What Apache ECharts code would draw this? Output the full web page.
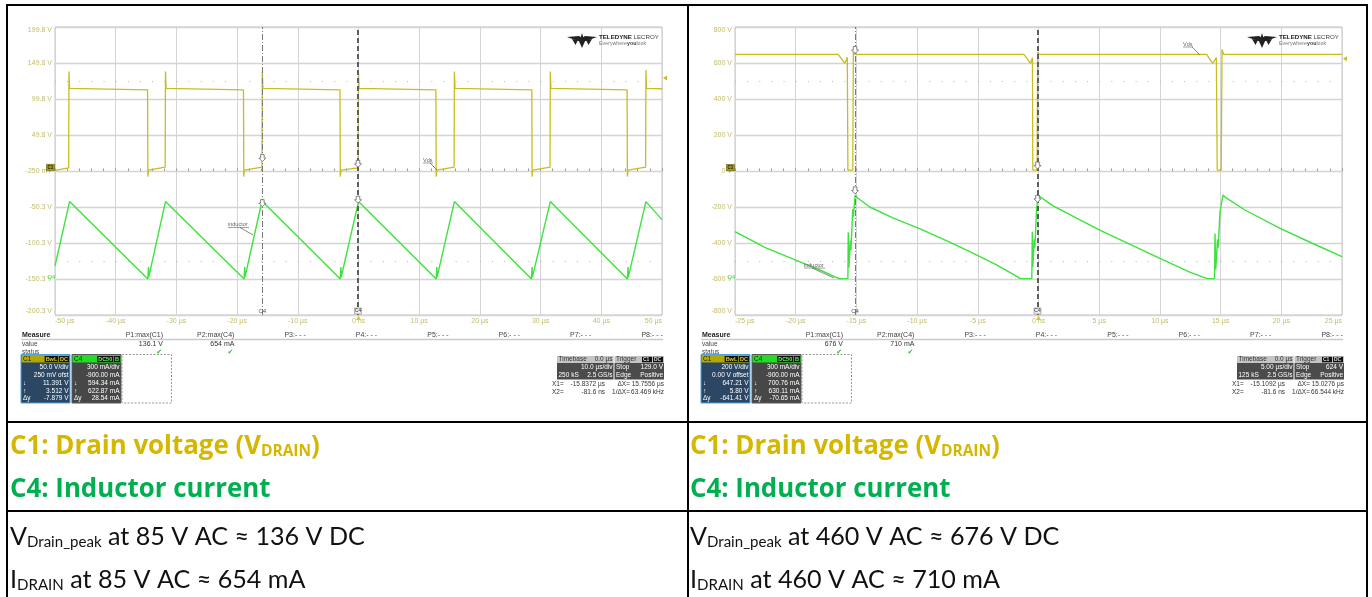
<!DOCTYPE html>
<html>
<head>
<meta charset="utf-8">
<script src="https://cdn.jsdelivr.net/npm/echarts@6/dist/echarts.min.js"></script>
<style>
html, body { margin: 0; padding: 0; background: #fff; }
#chart { width: 1372px; height: 597px; }
</style>
</head>
<body>
<div id="chart"></div>
<script>
// ---- left scope: 85 V AC, 10 us/div ----
const leftTimeLabels = ['-50 µs', '-40 µs', '-30 µs', '-20 µs', '-10 µs', '0 ns', '10 µs', '20 µs', '30 µs', '40 µs', '50 µs'];
const leftVoltLabels = ['-200.3 V', '-150.3 V', '-100.3 V', '-50.3 V', '-250 mV', '49.8 V', '99.8 V', '149.8 V', '199.8 V'];
// C1 drain voltage [us, V]
const leftDrain = [
	[-50, 0.5], [-47.75, 4], [-47.7, 138], [-47.6, 114.5],
	[-34.75, 112.5], [-34.7, -8], [-34.6, 1], [-31.85, 5], [-31.8, 138], [-31.7, 114.5],
	[-18.95, 112.5], [-18.9, -8], [-18.8, 1], [-15.9, 5], [-15.85, 138], [-15.75, 114.5],
	[-3.05, 112.5], [-3.0, -8], [-2.9, 1], [-0.05, 4], [0, 136], [0.1, 114.5],
	[12.75, 112.5], [12.8, -8], [12.9, 1], [15.75, 5], [15.8, 138], [15.9, 114.5],
	[28.55, 112.5], [28.6, -8], [28.7, 1], [31.55, 5], [31.6, 138], [31.7, 114.5],
	[44.25, 112.5], [44.3, -8], [44.4, 1], [47.3, 5], [47.35, 140], [47.45, 114.5],
	[50, 114]
];
// C4 inductor current [us, mA]
const leftInductor = [
	[-50, 110], [-47.6, 645],
	[-34.7, 0], [-34.6, 100], [-34.55, 15], [-31.8, 645],
	[-18.85, 0], [-18.75, 100], [-18.7, 15], [-15.9, 650],
	[-3.0, 0], [-2.9, 100], [-2.85, 15], [0, 645],
	[12.8, 0], [12.9, 100], [12.95, 15], [15.8, 645],
	[28.5, 0], [28.6, 100], [28.65, 15], [31.6, 645],
	[44.3, 0], [44.4, 100], [44.45, 15], [47.35, 645],
	[50, 495]
];
const leftCursors = [-15.8372, -0.0816];
const leftTrigger = 129.0;
const leftMeasure = ['136.1 V', '654 mA'];
const leftC1Box = ['50.0 V/div', '250 mV ofst', '11.391 V', '3.512 V', '-7.879 V'];
const leftC4Box = ['300 mA/div', '-900.00 mA', '594.34 mA', '622.87 mA', '28.54 mA'];
const leftTimebase = ['0.0 µs', '10.0 µs/div', '250 kS', '2.5 GS/s', '129.0 V'];
const leftCursorText = ['-15.8372 µs', '-81.6 ns', '15.7556 µs', '63.469 kHz'];
const leftNotes = [' at 85 V AC ≈ 136 V DC', ' at 85 V AC ≈ 654 mA'];

// ---- right scope: 460 V AC, 5 us/div ----
const rightTimeLabels = ['-25 µs', '-20 µs', '-15 µs', '-10 µs', '-5 µs', '0 ns', '5 µs', '10 µs', '15 µs', '20 µs', '25 µs'];
const rightVoltLabels = ['-800 V', '-600 V', '-400 V', '-200 V', '0 V', '200 V', '400 V', '600 V', '800 V'];
const rightDrain = [
	[-25, 648], [-16.5, 648], [-15.95, 598], [-15.75, 632], [-15.7, 5], [-15.3, 5], [-15.25, 664], [-15.1, 648],
	[-1.2, 648], [-0.65, 598], [-0.5, 630], [-0.47, 5], [-0.12, 5], [-0.07, 660], [0.05, 648],
	[13.85, 648], [14.35, 598], [14.65, 630], [14.72, 5], [15.05, 5], [15.12, 676], [15.25, 648],
	[25, 648]
];
const rightInductor = [
	[-25, 394], [-22.5, 262], [-20, 158], [-18, 75], [-16.8, 20], [-16.4, 2],
	[-15.7, 5], [-15.67, 390], [-15.62, 95], [-15.5, 320], [-15.45, 240], [-15.3, 580], [-15.25, 520], [-15.1, 700],
	[-14.9, 675], [-13.9, 600], [-12, 510], [-9.8, 420], [-7.5, 315], [-5.7, 230], [-3.5, 120], [-2.0, 35], [-1.5, 3],
	[-0.55, 3], [-0.51, 394], [-0.47, 100], [-0.35, 330], [-0.3, 260], [-0.15, 600], [0, 700],
	[0.2, 680], [1.2, 610], [5, 410], [10, 172], [12.5, 55], [13.9, 3],
	[14.5, 3], [14.54, 380], [14.6, 80], [14.75, 330], [14.8, 260], [14.95, 560], [15.2, 700],
	[15.4, 680], [17, 575], [19.9, 422], [22.5, 300], [25, 186]
];
const rightCursors = [-15.1092, -0.0816];
const rightTrigger = 624;
const rightMeasure = ['676 V', '710 mA'];
const rightC1Box = ['200 V/div', '0.00 V offset', '647.21 V', '5.80 V', '-641.41 V'];
const rightC4Box = ['300 mA/div', '-900.00 mA', '700.76 mA', '630.11 mA', '-70.65 mA'];
const rightTimebase = ['0.0 µs', '5.00 µs/div', '125 kS', '2.5 GS/s', '624 V'];
const rightCursorText = ['-15.1092 µs', '-81.6 ns', '15.0276 µs', '66.544 kHz'];
const rightNotes = [' at 460 V AC ≈ 676 V DC', ' at 460 V AC ≈ 710 mA'];

// C4 scale: 300 mA/div, 900 mA at centre
const c4Range = [-300, 2100];
const paramHeads = ['P1:max(C1)', 'P2:max(C4)', 'P3:- - -', 'P4:- - -', 'P5:- - -', 'P6:- - -', 'P7:- - -', 'P8:- - -'];

const F = '"Liberation Sans"';
const LBL = '#c2bb6a';
const YEL = '#c8bd20';
const GRN = '#3ee23e';
const HEAD_Y = '#d6b700';
const HEAD_G = '#00b050';

const chart = echarts.init(document.getElementById('chart'));

const mctx = document.createElement('canvas').getContext('2d');
function measure(s, font) {
	mctx.font = font;
	return mctx.measureText(s).width;
}
// font size that makes a run of [text, weight, relSize] pieces span the given width
function fitSize(parts, family, target) {
	let w = 0;
	parts.forEach((p) => { w += measure(p[0], p[1] + ' ' + (20 * p[2]) + 'px ' + family); });
	return 20 * target / w;
}

function timeAxis(gi, min, max, step, labels) {
	return {
		type: 'value', gridIndex: gi, min: min, max: max, interval: step,
		axisLine: { show: false }, axisTick: { show: false },
		splitLine: { show: true, lineStyle: { color: '#d4d4d4', width: 1 } },
		axisLabel: {
			fontSize: 7, fontFamily: 'Liberation Sans', color: LBL, margin: 3,
			alignMinLabel: 'left', alignMaxLabel: 'right',
			formatter: (v) => labels[Math.round((v - min) / step)]
		}
	};
}
function voltAxis(gi, min, max, step, labels) {
	return {
		type: 'value', gridIndex: gi, min: min, max: max, interval: step,
		axisLine: { show: false }, axisTick: { show: false },
		splitLine: { show: true, lineStyle: { color: '#d4d4d4', width: 1.3 } },
		axisLabel: {
			fontSize: 7, fontFamily: 'Liberation Sans', color: LBL, margin: 3,
			verticalAlignMinLabel: 'bottom', verticalAlignMaxLabel: 'top',
			formatter: (v) => labels[Math.round((v - min) / step)]
		}
	};
}
function currentAxis(gi) {
	return { type: 'value', gridIndex: gi, min: c4Range[0], max: c4Range[1], show: false };
}
// small ticks along the centre line of the graticule
function tickAxis(gi, min, max, step) {
	return {
		type: 'value', gridIndex: gi, min: min, max: max, interval: step,
		position: 'bottom', offset: -144,
		axisLine: { show: false }, axisLabel: { show: false }, splitLine: { show: false },
		axisTick: { show: true, inside: true, length: 2.5, lineStyle: { color: '#999' } },
		minorTick: { show: true, splitNumber: 5, length: 2.5, lineStyle: { color: '#999' } }
	};
}

function cursorMarks(cur, dots) {
	const dot = { color: '#b4b4b4', width: 1, type: [1, 11.14] };
	return {
		silent: true, symbol: ['none', 'none'], label: { show: false }, animation: false,
		emphasis: { disabled: true },
		data: [
			{ xAxis: cur[0], lineStyle: { color: '#7a7a7a', width: 1, type: [6, 2, 1, 2] } },
			{ xAxis: cur[1], lineStyle: { color: '#5e5e5e', width: 2, type: [5, 3] } },
			{ yAxis: dots[0], lineStyle: dot },
			{ yAxis: dots[1], lineStyle: dot }
		]
	};
}

function trace(xi, yi, data, color, width, extra) {
	return Object.assign({
		type: 'line', xAxisIndex: xi, yAxisIndex: yi, data: data,
		showSymbol: false, symbol: 'none', silent: true, animation: false,
		lineStyle: { color: color, width: width }, z: 3
	}, extra || {});
}

chart.setOption({
	animation: false,
	backgroundColor: '#fff',
	grid: [
		{ left: 55, top: 27, width: 607, height: 288, show: true, borderColor: '#c4c4c4', borderWidth: 1 },
		{ left: 735, top: 27, width: 607, height: 288, show: true, borderColor: '#c4c4c4', borderWidth: 1 }
	],
	xAxis: [
		timeAxis(0, -50, 50, 10, leftTimeLabels),
		timeAxis(1, -25, 25, 5, rightTimeLabels),
		tickAxis(0, -50, 50, 10),
		tickAxis(1, -25, 25, 5)
	],
	yAxis: [
		voltAxis(0, -200.25, 199.75, 50, leftVoltLabels),
		currentAxis(0),
		voltAxis(1, -800, 800, 200, rightVoltLabels),
		currentAxis(1)
	],
	series: [
		trace(0, 1, leftInductor, GRN, 1.4),
		trace(0, 0, leftDrain, YEL, 1.3, { markLine: cursorMarks(leftCursors, [124.75, -125.25]) }),
		trace(1, 3, rightInductor, GRN, 1.4),
		trace(1, 2, rightDrain, YEL, 1.3, { markLine: cursorMarks(rightCursors, [500, -500]) })
	]
});

// ---------- graphic helpers ----------
function T(x, y, s, font, fill, align) {
	return {
		type: 'text', x: x, y: y, z: 100, silent: true,
		style: {
			text: s, font: font, fill: fill || '#333',
			align: align || 'left', verticalAlign: 'middle',
			textAlign: align || 'left', textVerticalAlign: 'middle'
		}
	};
}
function L(x1, y1, x2, y2, stroke, w, dash) {
	return { type: 'line', z: 100, silent: true, shape: { x1: x1, y1: y1, x2: x2, y2: y2 }, style: { stroke: stroke, lineWidth: w || 1, lineDash: dash || null } };
}
function R(x, y, w, h, fill, stroke, lw, dash) {
	return { type: 'rect', z: 99, silent: true, shape: { x: x, y: y, width: w, height: h }, style: { fill: fill || 'none', stroke: stroke || null, lineWidth: lw || 1, lineDash: dash || null } };
}
function P(points, fill, stroke) {
	return { type: 'polygon', z: 100, silent: true, shape: { points: points }, style: { fill: fill, stroke: stroke || null, lineWidth: 0.8 } };
}
function runs(x, y, parts) {
	const out = [];
	parts.forEach((p) => {
		out.push(T(x, y + (p.dy || 0), p.t, p.font, p.fill));
		x += measure(p.t, p.font);
	});
	return out;
}
function arrow(x, y) {
	return P([[x - 1.8, y - 7], [x + 1.8, y - 7], [x + 1.8, y - 3.5], [x + 3.5, y - 3.5], [x, y], [x - 3.5, y - 3.5], [x - 1.8, y - 3.5]], '#fff', '#666');
}

function chanBox(out, x, name, rows, headC, bodyC, borderC, tags, tagTextC) {
	const fs = '6.5px ' + F;
	out.push(R(x, 354.5, 49, 48.5, bodyC, borderC, 1));
	out.push(R(x + 0.5, 355, 48, 7.5, headC));
	out.push(T(x + 2, 358.8, name, fs, '#222'));
	let tx = x + 48;
	for (let i = tags.length - 1; i >= 0; i--) {
		const w = measure(tags[i], 'bold 5.5px ' + F) + 2;
		tx -= w;
		out.push(R(tx, 356, w, 6, '#111'));
		out.push(T(tx + 1, 359, tags[i], 'bold 5.5px ' + F, tagTextC));
		tx -= 0.8;
	}
	const sym = ['', '', '↓', '↑', 'Δy'];
	rows.forEach((r, i) => {
		const y = 367.5 + 7.75 * i;
		out.push(T(x + 47.5, y, r, fs, '#fff', 'right'));
		if (sym[i]) out.push(T(x + 2, y, sym[i], fs, '#fff'));
	});
}

function timebase(out, o, tb, ct) {
	const f = '6.5px ' + F;
	const x0 = 557 + o, xm = 614 + o, x1 = 664 + o;
	out.push(R(x0, 356, xm - x0 - 0.5, 7, '#c4c4c4'));
	out.push(R(xm + 0.5, 356, x1 - xm - 0.5, 7, '#c4c4c4'));
	out.push(R(x0, 363, xm - x0 - 0.5, 16.5, '#4b4b4b'));
	out.push(R(xm + 0.5, 363, x1 - xm - 0.5, 16.5, '#4b4b4b'));
	out.push(T(x0 + 1.5, 359.6, 'Timebase', f, '#333'));
	out.push(T(xm - 1.5, 359.6, tb[0], f, '#333', 'right'));
	out.push(T(xm + 2, 359.6, 'Trigger', f, '#333'));
	out.push(R(xm + 28, 356.8, 10, 5.5, '#111'));
	out.push(T(xm + 29, 359.6, 'C1', 'bold 5px ' + F, '#ddd'));
	out.push(R(xm + 39, 356.8, 10, 5.5, '#111'));
	out.push(T(xm + 40, 359.6, 'DC', 'bold 5px ' + F, '#ddd'));
	out.push(T(xm - 1.5, 367.5, tb[1], f, '#fff', 'right'));
	out.push(T(x0 + 1.5, 375, tb[2], f, '#fff'));
	out.push(T(xm - 1.5, 375, tb[3], f, '#fff', 'right'));
	out.push(T(xm + 2, 367.5, 'Stop', f, '#fff'));
	out.push(T(x1 - 1, 367.5, tb[4], f, '#fff', 'right'));
	out.push(T(xm + 2, 375, 'Edge', f, '#fff'));
	out.push(T(x1 - 1, 375, 'Positive', f, '#fff', 'right'));
	out.push(T(552 + o, 384, 'X1=', f, '#333'));
	out.push(T(605 + o, 384, ct[0], f, '#333', 'right'));
	out.push(T(630 + o, 384, 'ΔX=', f, '#333', 'right'));
	out.push(T(664 + o, 384, ct[2], f, '#333', 'right'));
	out.push(T(552 + o, 392, 'X2=', f, '#333'));
	out.push(T(605 + o, 392, ct[1], f, '#333', 'right'));
	out.push(T(630 + o, 392, '1/ΔX=', f, '#333', 'right'));
	out.push(T(664 + o, 392, ct[3], f, '#333', 'right'));
}

function logo(out, x, y) {
	out.push(P([[x, y + 4], [x + 12, y + 3], [x + 15, y + 5], [x + 18, y + 3], [x + 30, y + 4], [x + 19, y + 8], [x + 11, y + 8]], '#222'));
	out.push(P([[x + 11, y + 6], [x + 19, y + 6], [x + 15, y + 15]], '#222'));
	out.push(P([[x + 5, y + 6], [x + 11, y + 7], [x + 8.5, y + 12]], '#222'));
	out.push(P([[x + 19, y + 7], [x + 25, y + 6], [x + 21.5, y + 12]], '#222'));
	out.push(P([[x + 13.5, y + 5], [x + 16.5, y + 5], [x + 15, y]], '#222'));
	const ls = fitSize([['TELEDYNE', 'bold', 1], [' LECROY', 'normal', 1]], F, 60);
	runs(x + 32, y + 4.5, [
		{ t: 'TELEDYNE', font: 'bold ' + ls + 'px ' + F, fill: '#222' },
		{ t: ' LECROY', font: ls + 'px ' + F, fill: '#444' }
	]).forEach((e) => out.push(e));
	runs(x + 32, y + 10.5, [
		{ t: 'Everywhere', font: '5.3px ' + F, fill: '#777' },
		{ t: 'you', font: 'bold 5.3px ' + F, fill: '#444' },
		{ t: 'look', font: '5.3px ' + F, fill: '#777' }
	]).forEach((e) => out.push(e));
}

function tag(out, lx, ly, text, w, lead) {
	out.push(T(lx, ly, text, '5.5px ' + F, '#666'));
	out.push(L(lx, ly + 3, lx + w, ly + 3, '#777', 0.7));
	out.push(L(lead[0], lead[1], lead[2], lead[3], '#555', 0.7));
}

const scopes = [
	{ ox: 0, xi: 0, yv: 0, yc: 1, cur: leftCursors, trig: leftTrigger, meas: leftMeasure, c1: leftC1Box, c4: leftC4Box, tb: leftTimebase, ct: leftCursorText,
		vds: [423, 160, [430, 163, 437, 170]], ind: [228, 224.5, [240, 227.5, 253, 235]] },
	{ ox: 680, xi: 1, yv: 2, yc: 3, cur: rightCursors, trig: rightTrigger, meas: rightMeasure, c1: rightC1Box, c4: rightC4Box, tb: rightTimebase, ct: rightCursorText,
		vds: [1183, 44, [1192, 47, 1200, 55]], ind: [804, 265, [812, 268, 834, 278]] }
];

const g = [];

// table frame
[[7, 5, 1367, 5], [7, 422, 1367, 422], [7, 511, 1367, 511], [7, 4, 7, 597], [688, 4, 688, 597], [1367, 4, 1367, 597]]
	.forEach((l) => g.push(L(l[0], l[1], l[2], l[3], '#000', 2)));

// captions (sizes fitted to the widths seen in the table)
const HF = '"Open Sans"', BF = 'Lato';
const hs = fitSize([['C1: Drain voltage (V', 'bold', 1], ['DRAIN', 'bold', 0.6], [')', 'bold', 1]], HF, 310);
const bs = fitSize([['V', 'normal', 1], ['Drain_peak', 'normal', 0.6], [leftNotes[0], 'normal', 1]], BF, 355);
const HB = 'bold ' + hs + 'px ' + HF, HBs = 'bold ' + (hs * 0.6) + 'px ' + HF;
const RG = bs + 'px ' + BF, RGs = (bs * 0.6) + 'px ' + BF;
[[0, leftNotes], [680, rightNotes]].forEach(([o, notes]) => {
	runs(10 + o, 447, [
		{ t: 'C1: Drain voltage (V', font: HB, fill: HEAD_Y },
		{ t: 'DRAIN', font: HBs, fill: HEAD_Y, dy: 5 },
		{ t: ')', font: HB, fill: HEAD_Y }
	]).forEach((e) => g.push(e));
	runs(10 + o, 490, [{ t: 'C4: Inductor current', font: HB, fill: HEAD_G }]).forEach((e) => g.push(e));
	runs(10 + o, 537, [
		{ t: 'V', font: RG, fill: '#111' },
		{ t: 'Drain_peak', font: RGs, fill: '#111', dy: 5 },
		{ t: notes[0], font: RG, fill: '#111' }
	]).forEach((e) => g.push(e));
	runs(10 + o, 580, [
		{ t: 'I', font: RG, fill: '#111' },
		{ t: 'DRAIN', font: RGs, fill: '#111', dy: 5 },
		{ t: notes[1], font: RG, fill: '#111' }
	]).forEach((e) => g.push(e));
});

// scope decorations
scopes.forEach((s) => {
	const o = s.ox;
	const f = '7px ' + F;
	g.push(T(22 + o, 335, 'Measure', 'bold 7px ' + F, '#222'));
	g.push(L(21 + o, 339.5, 663 + o, 339.5, '#c9c9c9', 1.5));
	g.push(T(22 + o, 344, 'value', '6.5px ' + F, '#444'));
	g.push(T(22 + o, 352, 'status', '6.5px ' + F, '#444'));
	paramHeads.forEach((h, i) => g.push(T(163 + 71.4 * i + o, 335, h, f, '#444', 'right')));
	s.meas.forEach((v, i) => {
		g.push(T(163 + 71.4 * i + o, 344, v, f, '#333', 'right'));
		g.push(T(162 + 71.4 * i + o, 352, '✔', '7px "DejaVu Sans"', '#35c035', 'right'));
	});
	chanBox(g, 21 + o, 'C1', s.c1, '#b2a800', '#2b4764', '#4ea3df', ['BwL', 'DC'], '#d8cf45');
	chanBox(g, 72 + o, 'C4', s.c4, '#23dc23', '#474747', '#5a5a5a', ['DC50', 'B'], '#5f5');
	g.push(R(122 + o, 354.5, 49.5, 48.5, 'none', '#999', 1, [2, 1.5]));
	timebase(g, o, s.tb, s.ct);
	logo(g, 567 + o, 33);
	tag(g, s.vds[0], s.vds[1], 'Vds', 10, s.vds[2]);
	tag(g, s.ind[0], s.ind[1], 'inductor', 21, s.ind[2]);

	// markers that follow the axes
	const X1 = chart.convertToPixel({ xAxisIndex: s.xi }, s.cur[0]);
	const X2 = chart.convertToPixel({ xAxisIndex: s.xi }, s.cur[1]);
	const xT = chart.convertToPixel({ xAxisIndex: s.xi }, 0);
	const yZero = chart.convertToPixel({ yAxisIndex: s.yv }, 0);
	const yCZero = chart.convertToPixel({ yAxisIndex: s.yc }, 0);
	const yTrig = chart.convertToPixel({ yAxisIndex: s.yv }, s.trig);
	const xr = 662 + o;
	g.push(P([[xr + 1, yTrig], [xr + 5, yTrig - 2.5], [xr + 5, yTrig + 2.5]], YEL));
	g.push(R(46.5 + o, yZero - 6.5, 8, 6.5, '#a59c12', '#5b560a', 0.6));
	g.push(T(50.5 + o, yZero - 3.2, 'C1', 'bold 4.5px ' + F, '#222', 'center'));
	g.push(T(47.5 + o, yCZero - 2, 'C4', '6px ' + F, GRN));
	g.push(P([[xT, 315.5], [xT - 2.5, 320], [xT + 2.5, 320]], '#d4c640'));
	g.push(arrow(X1, chart.convertToPixel({ yAxisIndex: s.yv }, parseFloat(s.c1[2])) - 1));
	g.push(arrow(X1, chart.convertToPixel({ yAxisIndex: s.yc }, parseFloat(s.c4[2])) - 1));
	g.push(arrow(X2, chart.convertToPixel({ yAxisIndex: s.yv }, parseFloat(s.c1[3])) - 1));
	g.push(arrow(X2, chart.convertToPixel({ yAxisIndex: s.yc }, parseFloat(s.c4[3])) - 1));
	g.push(T(X1, 311, 'C4', '6px ' + F, '#555', 'center'));
	g.push(R(X2 - 3.5, 308, 7, 6, '#eee', '#888', 0.6));
	g.push(T(X2, 311, 'C4', '5px ' + F, '#333', 'center'));
});

chart.setOption({ graphic: { elements: g } });
</script>
</body>
</html>
